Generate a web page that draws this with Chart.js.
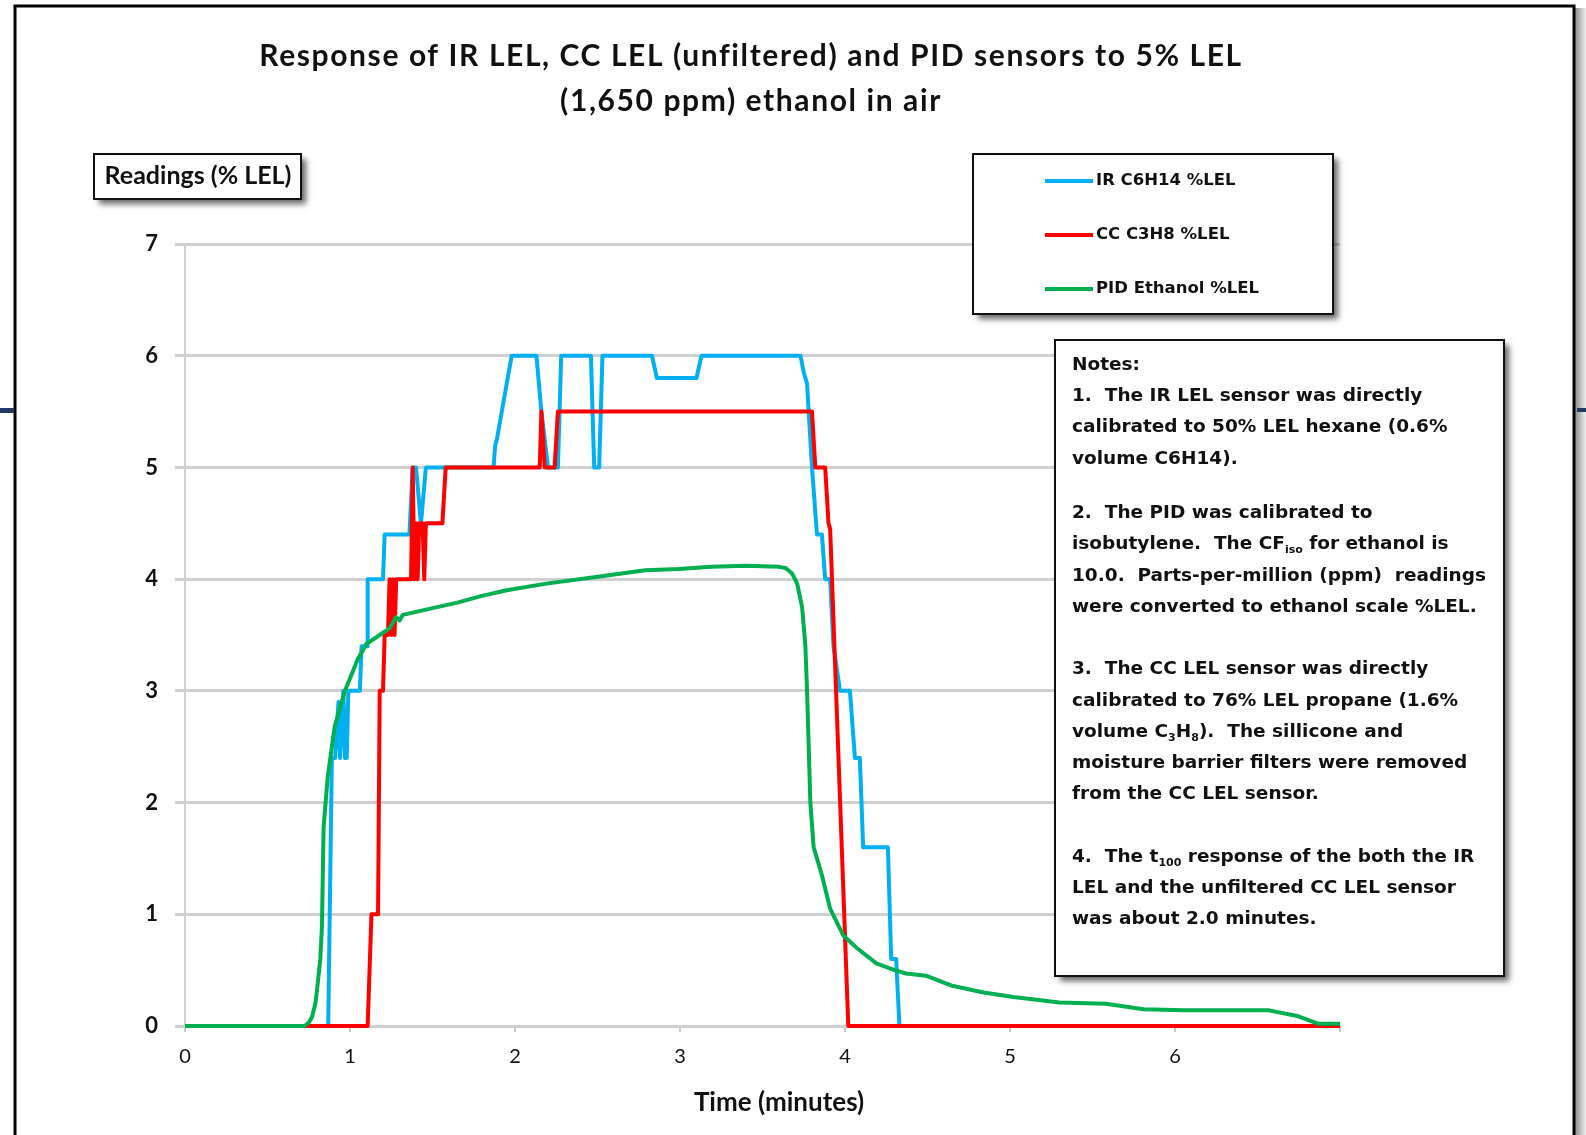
<!DOCTYPE html>
<html>
<head>
<meta charset="utf-8">
<title>Sensor response to 5% LEL ethanol</title>
<script src="https://cdn.jsdelivr.net/npm/chart.js@4.4.1/dist/chart.umd.min.js"></script>
<style>
  html, body { margin: 0; padding: 0; background: #fff; }
  canvas { display: block; }
</style>
</head>
<body>
<canvas id="responseChart" width="1586" height="1135"></canvas>
<script>
// Time axis in minutes, readings in %LEL
const irTime = [0, 0.868, 0.89, 0.91, 0.93, 0.94, 0.96, 0.97, 0.98, 0.99, 1.06, 1.07, 1.105, 1.107, 1.20, 1.21, 1.36, 1.38, 1.40, 1.43, 1.46, 1.87, 1.88, 1.89, 1.98, 2.13, 2.16, 2.20, 2.26, 2.28, 2.46, 2.48, 2.51, 2.53, 2.83, 2.86, 3.10, 3.13, 3.73, 3.75, 3.77, 3.80, 3.83, 3.86, 3.88, 3.91, 3.93, 3.97, 4.03, 4.06, 4.09, 4.11, 4.26, 4.28, 4.31, 4.33, 7.0];
const irLel  = [0, 0, 2.4, 2.4, 2.9, 2.4, 3.0, 2.4, 2.4, 3.0, 3.0, 3.4, 3.4, 4.0, 4.0, 4.4, 4.4, 5.0, 5.0, 4.5, 5.0, 5.0, 5.2, 5.25, 6.0, 6.0, 5.5, 5.0, 5.0, 6.0, 6.0, 5.0, 5.0, 6.0, 6.0, 5.8, 5.8, 6.0, 6.0, 5.85, 5.75, 5.0, 4.4, 4.4, 4.0, 4.0, 3.4, 3.0, 3.0, 2.4, 2.4, 1.6, 1.6, 0.6, 0.6, 0, 0];

const ccTime = [0, 1.107, 1.13, 1.17, 1.18, 1.20, 1.21, 1.23, 1.24, 1.25, 1.26, 1.27, 1.28, 1.37, 1.38, 1.39, 1.40, 1.41, 1.42, 1.44, 1.45, 1.46, 1.56, 1.58, 2.15, 2.16, 2.18, 2.24, 2.26, 3.80, 3.82, 3.88, 3.90, 3.91, 4.02, 7.0];
const ccLel  = [0, 0, 1.0, 1.0, 3.0, 3.0, 3.5, 3.5, 4.0, 3.5, 4.0, 3.5, 4.0, 4.0, 5.0, 4.0, 4.5, 4.0, 4.5, 4.5, 4.0, 4.5, 4.5, 5.0, 5.0, 5.5, 5.0, 5.0, 5.5, 5.5, 5.0, 5.0, 4.5, 4.45, 0, 0];

const pidTime = [0, 0.725, 0.75, 0.77, 0.79, 0.80, 0.82, 0.83, 0.84, 0.865, 0.907, 0.967, 1.046, 1.10, 1.16, 1.20, 1.24, 1.28, 1.30, 1.32, 1.44, 1.65, 1.80, 1.95, 2.19, 2.49, 2.79, 2.99, 3.19, 3.40, 3.60, 3.64, 3.68, 3.71, 3.74, 3.76, 3.77, 3.79, 3.81, 3.86, 3.91, 3.99, 4.07, 4.19, 4.30, 4.37, 4.49, 4.65, 4.84, 5.02, 5.30, 5.58, 5.81, 6.05, 6.57, 6.74, 6.87, 7.0];
const pidLel  = [0, 0, 0.03, 0.08, 0.2, 0.32, 0.6, 0.89, 1.78, 2.23, 2.68, 2.99, 3.28, 3.42, 3.48, 3.52, 3.56, 3.66, 3.63, 3.68, 3.72, 3.79, 3.85, 3.90, 3.96, 4.02, 4.08, 4.09, 4.11, 4.12, 4.11, 4.10, 4.05, 3.96, 3.75, 3.4, 3.0, 2.0, 1.6, 1.35, 1.05, 0.81, 0.70, 0.56, 0.50, 0.47, 0.45, 0.36, 0.30, 0.26, 0.21, 0.20, 0.15, 0.14, 0.14, 0.09, 0.02, 0.02];

const seriesNames = ['IR C6H14 %LEL', 'CC C3H8 %LEL', 'PID Ethanol %LEL'];
const seriesColors = ['#00b0f0', '#ff0000', '#00b050'];

const titleLines = [
  'Response of IR LEL, CC LEL (unfiltered) and PID sensors to 5% LEL',
  '(1,650 ppm) ethanol in air'
];
const yAxisLabel = 'Readings (% LEL)';
const xAxisLabel = 'Time (minutes)';

// each note line is a list of [text, isSubscript] pieces
const noteLines = [
  [['Notes:']],
  [['1.  The IR LEL sensor was directly']],
  [['calibrated to 50% LEL hexane (0.6%']],
  [['volume C6H14).']],
  null,
  [['2.  The PID was calibrated to']],
  [['isobutylene.  The CF'], ['iso', true], [' for ethanol is']],
  [['10.0.  Parts-per-million (ppm)  readings']],
  [['were converted to ethanol scale %LEL.']],
  null,
  [['3.  The CC LEL sensor was directly']],
  [['calibrated to 76% LEL propane (1.6%']],
  [['volume C'], ['3', true], ['H'], ['8', true], [').  The sillicone and']],
  [['moisture barrier filters were removed']],
  [['from the CC LEL sensor.']],
  null,
  [['4.  The t'], ['100', true], [' response of the both the IR']],
  [['LEL and the unfiltered CC LEL sensor']],
  [['was about 2.0 minutes.']]
];

function toPoints(xs, ys) {
  return xs.map((x, i) => ({ x: x, y: ys[i] }));
}

function shadowBox(ctx, x, y, w, h) {
  ctx.save();
  ctx.shadowColor = 'rgba(0, 0, 0, 0.6)';
  ctx.shadowBlur = 6;
  ctx.shadowOffsetX = 5;
  ctx.shadowOffsetY = 5;
  ctx.fillStyle = '#fff';
  ctx.fillRect(x, y, w, h);
  ctx.restore();
  ctx.strokeStyle = '#111';
  ctx.lineWidth = 2;
  ctx.strokeRect(x, y, w, h);
}

function drawPieces(ctx, pieces, x, y, size) {
  pieces.forEach(p => {
    const sub = p[1] === true;
    ctx.font = 'bold ' + (sub ? Math.round(size * 0.62) : size) + 'px "DejaVu Sans"';
    ctx.fillText(p[0], x, sub ? y + size * 0.32 : y);
    x += ctx.measureText(p[0]).width;
  });
}

const decorations = {
  id: 'decorations',
  beforeDraw(chart) {
    const ctx = chart.ctx;
    ctx.save();
    ctx.fillStyle = '#fff';
    ctx.fillRect(0, 0, chart.width, chart.height);

    // slide frame with its soft right edge
    const grad = ctx.createLinearGradient(1575, 0, 1586, 0);
    grad.addColorStop(0, '#8a8a8a');
    grad.addColorStop(1, '#f2f2f2');
    ctx.fillStyle = grad;
    ctx.fillRect(1575, 8, 11, 1127);
    ctx.strokeStyle = '#000';
    ctx.lineWidth = 3;
    ctx.beginPath();
    ctx.moveTo(15, 1135);
    ctx.lineTo(15, 6);
    ctx.lineTo(1574, 6);
    ctx.lineTo(1574, 1135);
    ctx.stroke();
    ctx.fillStyle = '#1f3864';
    ctx.fillRect(0, 408, 14, 5);
    ctx.fillRect(1577, 408, 9, 4);
    ctx.restore();
  },
  afterDraw(chart) {
    const ctx = chart.ctx;
    ctx.save();
    ctx.fillStyle = '#111';
    ctx.textAlign = 'center';
    ctx.textBaseline = 'middle';
    ctx.font = 'bold 30px Lato';
    ctx.letterSpacing = '1.6px';
    ctx.fillText(titleLines[0], 751, 56);
    ctx.fillText(titleLines[1], 751, 101);
    ctx.letterSpacing = '0px';

    ctx.font = 'bold 26px Lato';
    ctx.fillText(xAxisLabel, 779, 1103);

    shadowBox(ctx, 94, 154, 207, 45);
    ctx.fillStyle = '#111';
    ctx.font = 'bold 25px Lato';
    ctx.fillText(yAxisLabel, 198, 176);

    // legend
    shadowBox(ctx, 973, 154, 360, 160);
    ctx.textAlign = 'left';
    ctx.font = 'bold 16.5px "DejaVu Sans"';
    [181, 235, 289].forEach((y, i) => {
      ctx.strokeStyle = seriesColors[i];
      ctx.lineWidth = 4;
      ctx.beginPath();
      ctx.moveTo(1045, y);
      ctx.lineTo(1093, y);
      ctx.stroke();
      ctx.fillStyle = '#111';
      ctx.fillText(seriesNames[i], 1096, y);
    });

    // notes
    shadowBox(ctx, 1055, 340, 449, 636);
    ctx.fillStyle = '#111';
    const gaps = [23, 31, 31];
    let y = 365, g = 0;
    noteLines.forEach(line => {
      if (line === null) { y += gaps[g++]; return; }
      drawPieces(ctx, line, 1072, y, 18.5);
      y += 31.3;
    });
    ctx.restore();
  }
};

new Chart(document.getElementById('responseChart'), {
  type: 'scatter',
  data: {
    datasets: [
      { label: seriesNames[2], data: toPoints(pidTime, pidLel), borderColor: seriesColors[2], order: 1 },
      { label: seriesNames[1], data: toPoints(ccTime, ccLel), borderColor: seriesColors[1], order: 2 },
      { label: seriesNames[0], data: toPoints(irTime, irLel), borderColor: seriesColors[0], order: 3 }
    ].map(d => Object.assign(d, {
      showLine: true,
      borderWidth: 4,
      pointRadius: 0,
      tension: 0,
      clip: false,
      borderJoinStyle: 'round'
    }))
  },
  options: {
    responsive: false,
    animation: false,
    layout: { padding: { left: 0, top: 244, right: 246, bottom: 0 } },
    plugins: {
      legend: { display: false },
      title: { display: false },
      tooltip: { enabled: false }
    },
    scales: {
      x: {
        type: 'linear',
        min: 0,
        max: 7,
        afterFit: scale => { scale.height = 109; },
        ticks: {
          stepSize: 1,
          padding: 13,
          color: '#111',
          font: { family: 'Lato', size: 20, weight: 'normal' },
          callback: v => (v < 7 ? v : '')
        },
        grid: { drawOnChartArea: false, tickLength: 6, color: '#c8c8c8', lineWidth: 2 },
        border: { color: '#d0d0d0', width: 3 }
      },
      y: {
        min: 0,
        max: 7,
        afterFit: scale => { scale.width = 185; },
        ticks: {
          stepSize: 1,
          padding: 17,
          color: '#111',
          font: { family: 'Lato', size: 22, weight: 'bold' }
        },
        grid: { color: '#d0d0d0', lineWidth: 3, tickLength: 10 },
        border: { color: '#d0d0d0', width: 2 }
      }
    }
  },
  plugins: [decorations]
});
</script>
</body>
</html>
